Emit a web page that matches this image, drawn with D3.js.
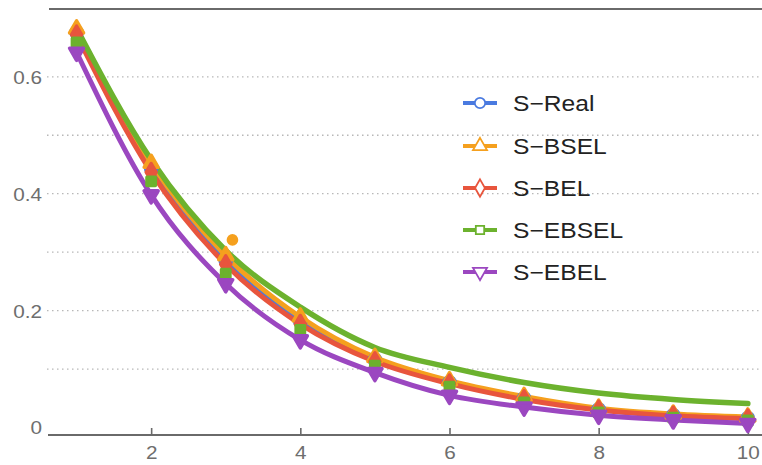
<!DOCTYPE html>
<html><head><meta charset="utf-8">
<script src="https://cdn.jsdelivr.net/npm/d3@7/dist/d3.min.js"></script>
<style>body{margin:0;background:#fff}svg{display:block}</style>
</head><body>
<svg id="chart" width="762" height="465"></svg>
<script>
const xValues = [1,2,3,4,5,6,7,8,9,10];
const seriesNames = ["S\u2212Real","S\u2212BSEL","S\u2212BEL","S\u2212EBSEL","S\u2212EBEL"];
const sReal  = [0.676,0.444,0.286,0.182,0.116,0.077,0.050,0.031,0.021,0.016];
const sBSEL  = [0.682,0.452,0.294,0.189,0.120,0.080,0.053,0.033,0.023,0.018];
const sBEL   = [0.672,0.437,0.279,0.177,0.113,0.075,0.048,0.030,0.020,0.015];
const sEBSEL = [0.659,0.421,0.263,0.167,0.106,0.070,0.043,0.026,0.017,0.012];
const sEBEL  = [0.642,0.398,0.246,0.150,0.094,0.055,0.035,0.021,0.013,0.007];
const sEBSELCurve = [0.683,0.458,0.303,0.206,0.137,0.103,0.077,0.059,0.048,0.041];
const strayPoint = [{x:3.09, y:0.321}];
const xTicks = [2,4,6,8,10];
const yTicks = [0,0.2,0.4,0.6];
const yGrid = [0.1,0.2,0.3,0.4,0.5,0.6];

const colors = ["#4a7ae0","#f5a01e","#e8553d","#6cb22e","#9b47c0"];
const shapes = [d3.symbolCircle, d3.symbolTriangle, d3.symbolDiamond, d3.symbolSquare, d3.symbolTriangle];
const rotations = [0,0,0,0,180];
const markerValues = [sReal,sBSEL,sBEL,sEBSEL,sEBEL];
const lineValues = [sReal,sBSEL,sBEL,sEBSELCurve,sEBEL];

const svg = d3.select("#chart");
const L = 48, R = 762, T = 9, B = 435;
const x = d3.scaleLinear().domain([0.617, 10.19]).range([L, R]);
const y = d3.scaleLinear().domain([-0.0128, 0.716]).range([B, T]);
const sx = 1.12;

// grid lines
svg.append("g").selectAll("line").data(yGrid).join("line")
  .attr("x1", 47).attr("x2", R).attr("y1", d=>y(d)).attr("y2", d=>y(d))
  .attr("stroke", "#b8b8b8").attr("stroke-width", 1.3).attr("stroke-dasharray", "1.5,3.5");

// top frame line
svg.append("line").attr("x1", 49).attr("x2", R).attr("y1", T).attr("y2", T)
  .attr("stroke", "#6a6a6a").attr("stroke-width", 2);

// x axis
const xAxis = d3.axisBottom(x).tickValues(xTicks).tickSize(0).tickFormat(d3.format("d"));
const gx = svg.append("g").attr("transform", `translate(0,${B})`).call(xAxis);
gx.select(".domain").remove();
gx.append("line").attr("x1", L).attr("x2", R).attr("y1", 0).attr("y2", 0)
  .attr("stroke", "#6a6a6a").attr("stroke-width", 2);
gx.selectAll(".tick").append("line").attr("y1", 0).attr("y2", -7)
  .attr("stroke", "#6a6a6a").attr("stroke-width", 1.6);
gx.selectAll(".tick text").attr("y", 0).attr("dy", 0)
  .attr("transform", `translate(0,24) scale(${sx},1)`)
  .attr("font-family", "Liberation Sans, Arial, sans-serif").attr("font-size", 18.5).attr("fill", "#6e6e6e");

// y labels
const yAxis = d3.axisLeft(y).tickValues(yTicks).tickSize(0).tickFormat(d => d === 0 ? "0" : d3.format(".1f")(d));
const gy = svg.append("g").attr("transform", `translate(42,0)`).call(yAxis);
gy.select(".domain").remove();
gy.selectAll(".tick text").attr("x", 0).attr("dy", "0.35em")
  .attr("transform", `scale(${sx},1)`)
  .attr("font-family", "Liberation Sans, Arial, sans-serif").attr("font-size", 18.5).attr("fill", "#6e6e6e");

// lines
const lineGen = d3.line().curve(d3.curveMonotoneX).x((d,i)=>x(xValues[i])).y(d=>y(d));
lineValues.forEach((vals, k) => {
  svg.append("path").datum(vals).attr("d", lineGen)
    .attr("fill", "none").attr("stroke", colors[k]).attr("stroke-width", k===3 ? 5.5 : 5)
    .attr("stroke-linejoin", "round").attr("stroke-linecap", "round");
});

// markers
markerValues.forEach((vals, k) => {
  svg.append("g").selectAll("path").data(vals).join("path")
    .attr("d", d3.symbol().type(shapes[k]).size(k===3 ? 70 : (k===0 ? 100 : 85)))
    .attr("transform", (d,i)=>`translate(${x(xValues[i])},${y(d)}) rotate(${rotations[k]})`)
    .attr("fill", colors[k]).attr("stroke", colors[k]).attr("stroke-width", 3.5).attr("stroke-linejoin", "round");
});

// stray point
svg.append("g").selectAll("circle").data(strayPoint).join("circle")
  .attr("cx", d=>x(d.x)).attr("cy", d=>y(d.y)).attr("r", 5.8).attr("fill", colors[1]);

// legend
const legend = svg.append("g");
const legY = [103,146,188,230,272];
seriesNames.forEach((name, k) => {
  const g = legend.append("g").attr("transform", `translate(480,${legY[k]})`);
  g.append("line").attr("x1", -17).attr("x2", 17).attr("stroke", colors[k]).attr("stroke-width", 4);
  g.append("path").attr("d", d3.symbol().type(shapes[k]).size(k===3 ? 70 : 85)())
    .attr("transform", `rotate(${rotations[k]})`)
    .attr("fill", "#fff").attr("stroke", colors[k]).attr("stroke-width", 1.8);
  g.append("text").attr("transform", `translate(33,0) scale(${sx},1)`).attr("dy", "0.35em")
    .attr("font-family", "Liberation Sans, Arial, sans-serif").attr("font-size", 22).attr("fill", "#222")
    .text(name);
});
</script>
</body></html>
